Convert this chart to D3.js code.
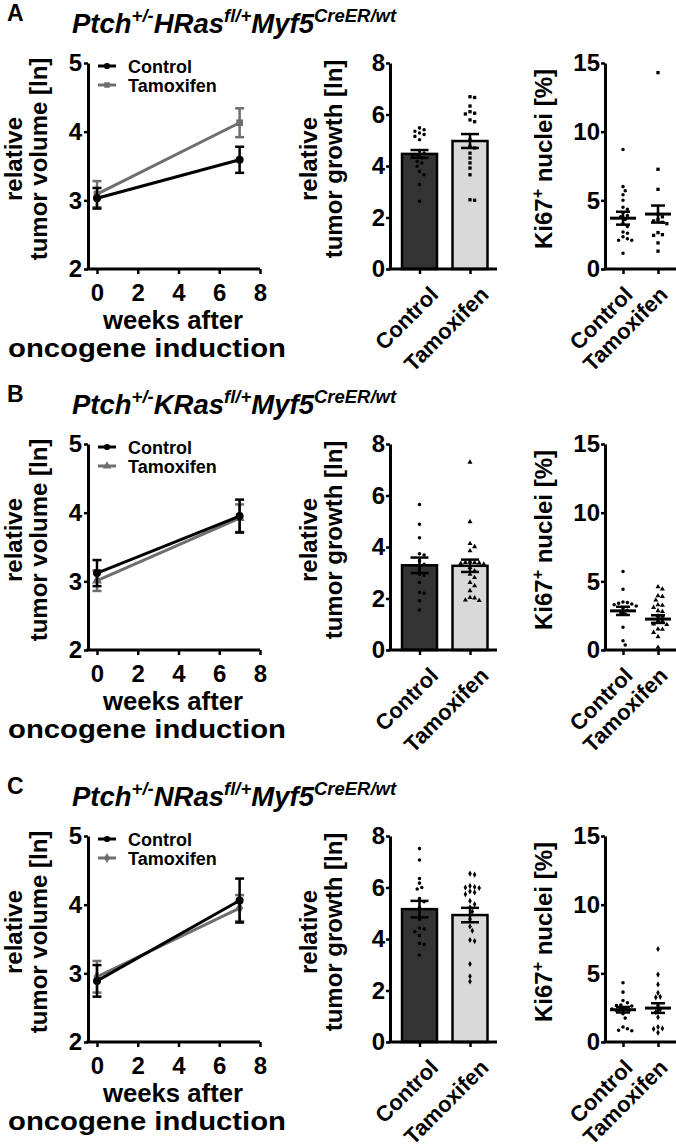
<!DOCTYPE html>
<html>
<head>
<meta charset="utf-8">
<script src="https://cdn.jsdelivr.net/npm/d3@7"></script>
<style>
body { margin: 0; background: #fff; }
svg text { font-family: "Liberation Sans", Arial, sans-serif; font-weight: bold; fill: #000; }
</style>
</head>
<body>
<svg id="fig" width="676" height="1148"></svg>
<script>
// ---- data ----
var groups = ["Control", "Tamoxifen"];
var weeks = [0, 7];
var weekTicks = [0, 2, 4, 6, 8];
var volTicks = [2, 3, 4, 5];
var growthTicks = [0, 2, 4, 6, 8];
var ki67Ticks = [0, 5, 10, 15];

// relative tumor volume, mean and SEM at week 0 and 7
var volControlA = [3.03, 3.59], volControlSemA = [0.15, 0.19];
var volTamoxifenA = [3.09, 4.13], volTamoxifenSemA = [0.19, 0.21];
var volControlB = [3.12, 3.95], volControlSemB = [0.19, 0.24];
var volTamoxifenB = [3.01, 3.92], volTamoxifenSemB = [0.15, 0.2];
var volControlC = [2.89, 4.06], volControlSemC = [0.23, 0.32];
var volTamoxifenC = [2.95, 3.95], volTamoxifenSemC = [0.23, 0.19];

// relative tumor growth, single tumours + mean/SEM
var growthControlA = [5.48, 5.41, 5.35, 5.28, 5.22, 5.15, 5.02, 4.6, 4.5, 4.44, 4.38, 4.31, 4.18, 4.12, 3.99, 3.79, 3.66, 3.28, 2.63];
var growthTamoxifenA = [6.69, 6.66, 6.33, 6.11, 6.05, 6.02, 5.79, 5.72, 5.02, 4.76, 4.7, 4.5, 4.31, 4.12, 3.92, 3.66, 2.69, 2.67];
var growthMeanA = [4.47, 4.97], growthSemA = [0.15, 0.27];
var growthControlB = [5.65, 4.88, 4.36, 3.74, 3.69, 3.46, 3.33, 3.14, 2.94, 2.9, 2.62, 2.23, 2.2, 1.91, 1.55];
var growthTamoxifenB = [7.29, 4.98, 4.13, 4.01, 3.85, 3.42, 3.4, 3.4, 3.38, 3.36, 3.33, 3.2, 3.07, 2.94, 2.81, 2.62, 2.49, 2.3, 2.04, 2.02, 1.94, 1.92];
var growthMeanB = [3.29, 3.27], growthSemB = [0.3, 0.24];
var growthControlC = [7.51, 7.07, 6.35, 6.17, 6.0, 5.94, 5.57, 5.45, 5.23, 4.77, 4.43, 4.39, 4.28, 4.13, 3.83, 3.79, 3.38];
var growthTamoxifenC = [6.54, 6.5, 6.06, 6.02, 6.0, 5.98, 5.85, 5.81, 5.74, 5.48, 5.35, 5.23, 5.06, 4.77, 4.49, 4.32, 3.96, 3.92, 3.03, 2.55, 2.35];
var growthMeanC = [5.16, 4.93], growthSemC = [0.32, 0.28];

// Ki67+ nuclei [%]
var ki67ControlA = [8.7, 6.0, 5.7, 5.4, 5.0, 4.5, 4.35, 4.1, 3.9, 3.8, 3.6, 3.3, 3.1, 2.7, 2.6, 2.35, 2.2, 2.1, 2.1, 1.15];
var ki67TamoxifenA = [14.3, 7.26, 5.8, 4.0, 3.8, 3.6, 3.5, 3.4, 3.3, 2.65, 2.5, 2.45, 1.9, 1.3];
var ki67MeanA = [3.7, 4.0], ki67SemA = [0.47, 0.62];
var ki67ControlB = [5.71, 4.43, 3.5, 3.45, 3.4, 3.35, 3.3, 3.2, 3.05, 2.9, 2.73, 2.61, 1.65, 0.68, 0.36];
var ki67TamoxifenB = [4.6, 4.43, 3.94, 3.9, 3.63, 3.29, 3.25, 3.1, 2.86, 2.8, 2.49, 2.45, 2.13, 2.1, 1.89, 1.85, 1.52, 1.5, 1.28, 0.97, 0.19];
var ki67MeanB = [2.85, 2.25], ki67SemB = [0.3, 0.28];
var ki67ControlC = [4.31, 3.63, 3.02, 2.86, 2.7, 2.66, 2.62, 2.45, 2.4, 2.37, 2.33, 2.3, 2.06, 1.74, 1.09, 0.97, 0.85, 0.82];
var ki67TamoxifenC = [6.77, 4.91, 4.19, 3.58, 3.29, 3.25, 2.66, 2.37, 2.18, 1.81, 1.09, 0.99, 0.95, 0.68];
var ki67MeanC = [2.35, 2.47], ki67SemC = [0.2, 0.35];

var panels = [
	{ label: "A", gene: "HRas", shape: d3.symbolSquare,
		vol: [volControlA, volTamoxifenA], volSem: [volControlSemA, volTamoxifenSemA],
		growth: [growthControlA, growthTamoxifenA], growthMean: growthMeanA, growthSem: growthSemA,
		ki67: [ki67ControlA, ki67TamoxifenA], ki67Mean: ki67MeanA, ki67Sem: ki67SemA },
	{ label: "B", gene: "KRas", shape: d3.symbolTriangle,
		vol: [volControlB, volTamoxifenB], volSem: [volControlSemB, volTamoxifenSemB],
		growth: [growthControlB, growthTamoxifenB], growthMean: growthMeanB, growthSem: growthSemB,
		ki67: [ki67ControlB, ki67TamoxifenB], ki67Mean: ki67MeanB, ki67Sem: ki67SemB },
	{ label: "C", gene: "NRas", shape: d3.symbolDiamond,
		vol: [volControlC, volTamoxifenC], volSem: [volControlSemC, volTamoxifenSemC],
		growth: [growthControlC, growthTamoxifenC], growthMean: growthMeanC, growthSem: growthSemC,
		ki67: [ki67ControlC, ki67TamoxifenC], ki67Mean: ki67MeanC, ki67Sem: ki67SemC }
];

// ---- layout ----
var panelTops = [63, 444, 836];
var plotH = 206;
var lineColors = ["#000", "#6e6e6e"];
var barFills = ["#333", "#d9d9d9"];
var fmt = d3.format("d");

var svg = d3.select("#fig");

//  style an axis group GraphPad-like
function styleAxis(ax, fs) {
	ax.attr("font-size", null).attr("font-family", null);
	ax.select(".domain").attr("stroke-width", 3);
	ax.selectAll(".tick line").attr("stroke-width", 2.5);
	ax.selectAll(".tick text").attr("font-size", fs);
}

//  simple beeswarm so equal values spread sideways
function swarm(values, cx, yScale, gap) {
	var placed = [];
	return values.slice().sort(d3.descending).map(function(v) {
		var py = yScale(v);
		for (var k = 0; k < 40; k++) {
			var cands = k ? [cx + k * gap / 2, cx - k * gap / 2] : [cx];
			for (var j = 0; j < cands.length; j++) {
				var px = cands[j];
				var hit = placed.some(function(q) { return Math.hypot(q[0] - px, q[1] - py) < gap; });
				if (!hit) { placed.push([px, py]); return [px, py]; }
			}
		}
		return [cx, py];
	});
}

function errBar(g, x, y0, y1, cap, w, col) {
	g.append("line").attr("x1", x).attr("x2", x).attr("y1", y0).attr("y2", y1)
		.attr("stroke", col).attr("stroke-width", w);
	[y0, y1].forEach(function(yy) {
		g.append("line").attr("x1", x - cap / 2).attr("x2", x + cap / 2).attr("y1", yy).attr("y2", yy)
			.attr("stroke", col).attr("stroke-width", w);
	});
}

function groupLabels(g, xs, bottom, shift) {
	groups.forEach(function(name) {
		g.append("text").attr("font-size", 22).attr("text-anchor", "end")
			.attr("transform", "translate(" + (xs(name) + shift) + "," + (bottom + 27) + ")rotate(-45)")
			.text(name);
	});
}

function drawPanel(p, top) {
	var bottom = top + plotH;
	var g = svg.append("g");

	g.append("text").attr("x", 7).attr("y", top - 42).attr("font-size", 23).text(p.label);
	var title = g.append("text").attr("x", 72).attr("y", top - 30)
		.attr("font-size", 27.5).attr("font-style", "italic");
	title.append("tspan").text("Ptch");
	title.append("tspan").attr("font-size", 18.5).attr("dy", -11).text("+/-");
	title.append("tspan").attr("dy", 11).text(p.gene);
	title.append("tspan").attr("font-size", 18.5).attr("dy", -11).text("fl/+");
	title.append("tspan").attr("dy", 11).text("Myf5");
	title.append("tspan").attr("font-size", 18.5).attr("dy", -11).text("CreER/wt");

	// ---- tumor volume over time ----
	var x = d3.scaleLinear().domain([0, 8]).range([97, 260]);
	var y = d3.scaleLinear().domain([2, 5]).range([bottom, top]);
	var yAxisX = 88;

	var ya = g.append("g").attr("transform", "translate(" + yAxisX + ",0)")
		.call(d3.axisLeft(y).tickValues(volTicks).tickFormat(fmt).tickSize(4).tickSizeOuter(0).tickPadding(2));
	styleAxis(ya, 24);
	var xa = g.append("g").attr("transform", "translate(0," + bottom + ")")
		.call(d3.axisBottom(x).tickValues(weekTicks).tickFormat(fmt).tickSize(5).tickSizeOuter(0).tickPadding(10));
	styleAxis(xa, 24);
	xa.select(".domain").remove();
	g.append("line").attr("x1", yAxisX - 1.5).attr("x2", x.range()[1]).attr("y1", bottom).attr("y2", bottom)
		.attr("stroke", "#000").attr("stroke-width", 3);

	var line = d3.line().x(function(d, i) { return x(weeks[i]); }).y(function(d) { return y(d); });
	[1, 0].forEach(function(s) {
		var sg = g.append("g");
		sg.append("path").attr("d", line(p.vol[s])).attr("fill", "none")
			.attr("stroke", lineColors[s]).attr("stroke-width", 3);
		p.vol[s].forEach(function(m, i) {
			var e = p.volSem[s][i];
			errBar(sg, x(weeks[i]), y(m - e), y(m + e), 9, 2.5, lineColors[s]);
		});
		sg.selectAll("path.mk").data(p.vol[s]).enter().append("path").attr("class", "mk")
			.attr("transform", function(d, i) { return "translate(" + x(weeks[i]) + "," + y(d) + ")"; })
			.attr("d", d3.symbol().type(s ? p.shape : d3.symbolCircle).size(s ? 45 : 50))
			.attr("fill", lineColors[s]);
	});

	// legend
	groups.forEach(function(name, s) {
		var ly = top + 3 + s * 19;
		g.append("line").attr("x1", 98).attr("x2", 116).attr("y1", ly).attr("y2", ly)
			.attr("stroke", lineColors[s]).attr("stroke-width", 3);
		g.append("path").attr("transform", "translate(107," + ly + ")")
			.attr("d", d3.symbol().type(s ? p.shape : d3.symbolCircle).size(30))
			.attr("fill", lineColors[s]);
		g.append("text").attr("x", 128).attr("y", ly + 6.5).attr("font-size", 18).text(name);
	});

	var ycVol = top + 96;
	g.append("text").attr("transform", "translate(22," + ycVol + ")rotate(-90)")
		.attr("text-anchor", "middle").attr("font-size", 24).text("relative");
	g.append("text").attr("transform", "translate(47," + ycVol + ")rotate(-90)")
		.attr("text-anchor", "middle").attr("font-size", 24).text("tumor volume [ln]");
	g.append("text").attr("x", 173).attr("y", bottom + 60).attr("text-anchor", "middle")
		.attr("font-size", 25).attr("textLength", 140).attr("lengthAdjust", "spacingAndGlyphs").text("weeks after");
	g.append("text").attr("x", 147).attr("y", bottom + 88).attr("text-anchor", "middle")
		.attr("font-size", 25).attr("textLength", 278).attr("lengthAdjust", "spacingAndGlyphs").text("oncogene induction");

	// ---- tumor growth bars ----
	var bx = d3.scalePoint().domain(groups).range([419.5, 470]);
	var by = d3.scaleLinear().domain([0, 8]).range([bottom, top]);
	var barW = 35, bLeft = 390, bRight = 497;

	groups.forEach(function(name, s) {
		var m = p.growthMean[s];
		g.append("rect").attr("x", bx(name) - barW / 2).attr("y", by(m))
			.attr("width", barW).attr("height", by(0) - by(m))
			.attr("fill", barFills[s]).attr("stroke", "#000").attr("stroke-width", 2.5);
	});
	groups.forEach(function(name, s) {
		var pts = swarm(p.growth[s], bx(name), by, 4.6);
		g.selectAll(null).data(pts).enter().append("path")
			.attr("transform", function(d) { return "translate(" + d[0] + "," + d[1] + ")"; })
			.attr("d", d3.symbol().type(s ? p.shape : d3.symbolCircle).size(s ? 11 : 10));
		var m = p.growthMean[s], e = p.growthSem[s];
		errBar(g, bx(name), by(m - e), by(m + e), 18, 2.5, "#000");
	});
	var bya = g.append("g").attr("transform", "translate(" + bLeft + ",0)")
		.call(d3.axisLeft(by).tickValues(growthTicks).tickFormat(fmt).tickSize(4).tickSizeOuter(0).tickPadding(1));
	styleAxis(bya, 24);
	var bxa = g.append("g").attr("transform", "translate(0," + bottom + ")")
		.call(d3.axisBottom(bx).tickSize(5).tickSizeOuter(0).tickFormat(""));
	styleAxis(bxa, 22);
	bxa.select(".domain").remove();
	g.append("line").attr("x1", bLeft - 1.5).attr("x2", bRight).attr("y1", bottom).attr("y2", bottom)
		.attr("stroke", "#000").attr("stroke-width", 3);
	groupLabels(g, bx, bottom, 20);
	g.append("text").attr("transform", "translate(317," + ycVol + ")rotate(-90)")
		.attr("text-anchor", "middle").attr("font-size", 24).text("relative");
	g.append("text").attr("transform", "translate(342," + ycVol + ")rotate(-90)")
		.attr("text-anchor", "middle").attr("font-size", 24).text("tumor growth [ln]");

	// ---- Ki67 scatter ----
	var kx = d3.scalePoint().domain(groups).range([623, 658]);
	var ky = d3.scaleLinear().domain([0, 15]).range([bottom, top]);
	var kLeft = 605, kRight = 676;
	groups.forEach(function(name, s) {
		var pts = swarm(p.ki67[s], kx(name), ky, 4.4);
		g.selectAll(null).data(pts).enter().append("path")
			.attr("transform", function(d) { return "translate(" + d[0] + "," + d[1] + ")"; })
			.attr("d", d3.symbol().type(s ? p.shape : d3.symbolCircle).size(s ? 11 : 10));
		var m = p.ki67Mean[s], e = p.ki67Sem[s];
		g.append("line").attr("x1", kx(name) - 13).attr("x2", kx(name) + 13)
			.attr("y1", ky(m)).attr("y2", ky(m)).attr("stroke", "#000").attr("stroke-width", 3);
		errBar(g, kx(name), ky(m - e), ky(m + e), 14, 2.5, "#000");
	});
	var kya = g.append("g").attr("transform", "translate(" + kLeft + ",0)")
		.call(d3.axisLeft(ky).tickValues(ki67Ticks).tickFormat(fmt).tickSize(4).tickSizeOuter(0).tickPadding(1));
	styleAxis(kya, 24);
	var kxa = g.append("g").attr("transform", "translate(0," + bottom + ")")
		.call(d3.axisBottom(kx).tickSize(5).tickSizeOuter(0).tickFormat(""));
	styleAxis(kxa, 22);
	kxa.select(".domain").remove();
	g.append("line").attr("x1", kLeft - 1.5).attr("x2", kRight).attr("y1", bottom).attr("y2", bottom)
		.attr("stroke", "#000").attr("stroke-width", 3);
	groupLabels(g, kx, bottom, 11);
	var kl = g.append("text").attr("transform", "translate(552," + ycVol + ")rotate(-90)")
		.attr("text-anchor", "middle").attr("font-size", 24);
	kl.append("tspan").text("Ki67");
	kl.append("tspan").attr("font-size", 16).attr("dy", -9).text("+");
	kl.append("tspan").attr("dy", 9).text(" nuclei [%]");
}

panels.forEach(function(p, i) { drawPanel(p, panelTops[i]); });
</script>
</body>
</html>
